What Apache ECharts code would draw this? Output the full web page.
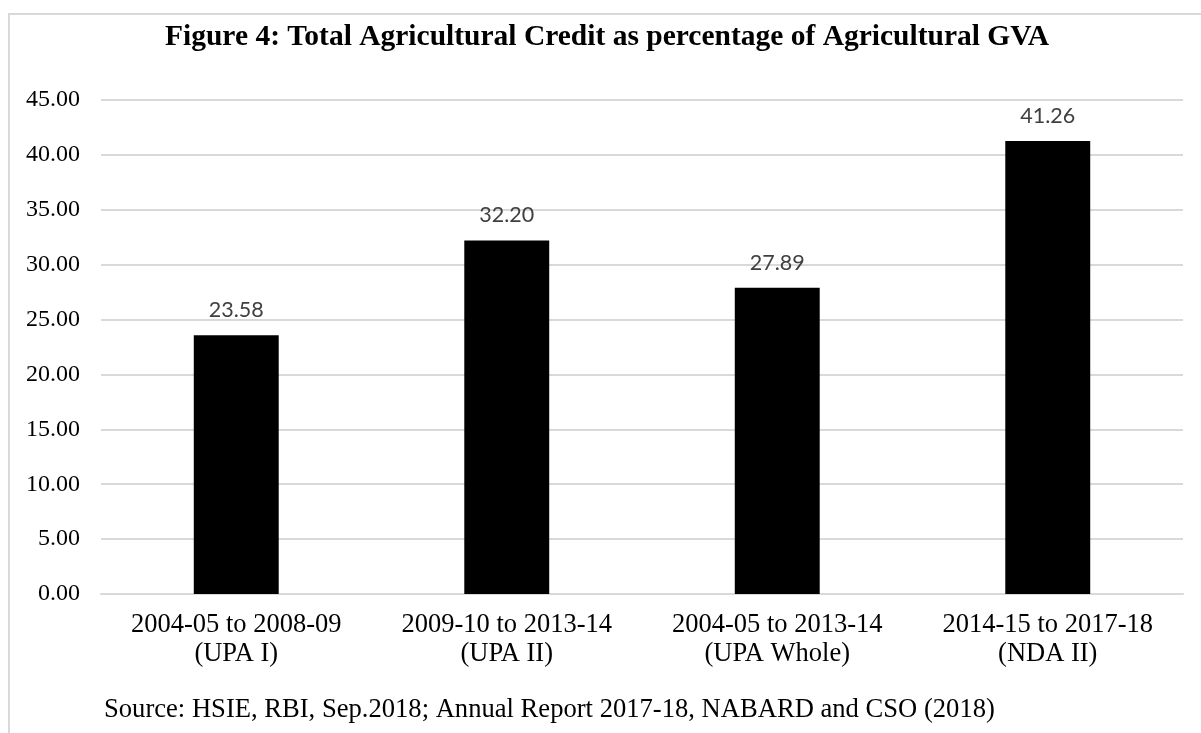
<!DOCTYPE html>
<html>
<head>
<meta charset="utf-8">
<script src="https://cdn.jsdelivr.net/npm/echarts@6/dist/echarts.min.js"></script>
<style>
  html, body { margin: 0; padding: 0; background: #ffffff; }
  #chart { width: 1201px; height: 733px; }
</style>
</head>
<body>
<div id="chart"></div>
<script>
// Periods and their credit-to-GVA ratio (%)
const periods = [
  '2004-05 to 2008-09\n(UPA I)',
  '2009-10 to 2013-14\n(UPA II)',
  '2004-05 to 2013-14\n(UPA Whole)',
  '2014-15 to 2017-18\n(NDA II)'
];
const creditShare = [23.58, 32.20, 27.89, 41.26];

const titleText = 'Figure 4: Total Agricultural Credit as percentage of Agricultural GVA';
const sourceText = 'Source: HSIE, RBI, Sep.2018; Annual Report 2017-18, NABARD and CSO (2018)';

const serif = '"Liberation Serif", "Times New Roman", serif';

const chart = echarts.init(document.getElementById('chart'), null, { renderer: 'canvas' });

chart.setOption({
  backgroundColor: '#ffffff',
  animation: false,
  title: {
    text: titleText,
    left: 160,
    top: 17,
    textStyle: {
      fontFamily: serif,
      fontWeight: 'bold',
      fontSize: 29.5,
      color: '#000000'
    }
  },
  graphic: [
    {
      type: 'rect',
      shape: { x: 9, y: 14, width: 1220, height: 740 },
      style: { fill: 'none', stroke: '#d9d9d9', lineWidth: 2 },
      silent: true,
      z: -1
    },
    {
      type: 'text',
      left: 104,
      top: 697,
      style: {
        text: sourceText,
        font: '26.6px ' + serif,
        fill: '#000000'
      }
    }
  ],
  grid: { left: 101, right: 18, top: 100, bottom: 139 },
  xAxis: {
    type: 'category',
    data: periods,
    axisLine: { show: true, lineStyle: { color: '#d9d9d9', width: 2 } },
    axisTick: { show: false },
    axisLabel: {
      margin: 17,
      color: '#000000',
      fontFamily: serif,
      fontSize: 26.5,
      lineHeight: 29,
      interval: 0
    }
  },
  yAxis: {
    type: 'value',
    min: 0,
    max: 45,
    interval: 5,
    axisLine: { show: false },
    axisTick: { show: false },
    splitLine: { lineStyle: { color: '#d9d9d9', width: 2 } },
    axisLabel: {
      margin: 21,
      color: '#000000',
      fontFamily: serif,
      fontSize: 24,
      formatter: v => v.toFixed(2)
    }
  },
  series: [{
    type: 'bar',
    data: creditShare,
    barWidth: '31.4%',
    itemStyle: { color: '#000000' },
    label: {
      show: true,
      position: 'top',
      distance: 14,
      color: '#404040',
      fontFamily: 'Lato, "Open Sans", sans-serif',
      fontSize: 21.5,
      formatter: p => p.value.toFixed(2)
    }
  }]
});
</script>
</body>
</html>
